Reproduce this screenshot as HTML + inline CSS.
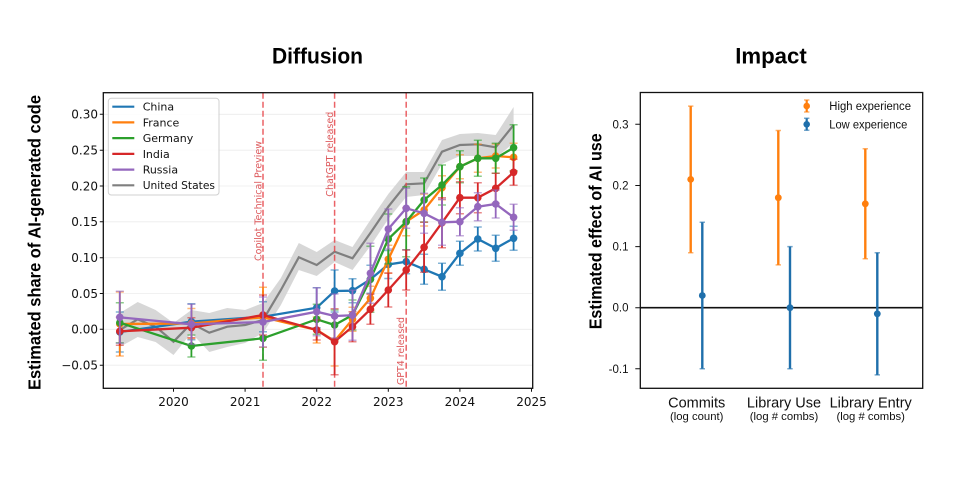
<!DOCTYPE html>
<html><head><meta charset="utf-8"><style>
html,body{margin:0;padding:0;background:#fff;}
svg{display:block;}
.tk{font-family:"DejaVu Sans","Liberation Sans",sans-serif;font-size:12px;fill:#111;}
.lg{font-family:"DejaVu Sans","Liberation Sans",sans-serif;font-size:11px;fill:#111;}
.rt{font-family:"Liberation Sans",sans-serif;font-size:11.5px;fill:#111;}
.ttl{font-family:"Liberation Sans",sans-serif;font-weight:bold;font-size:22px;fill:#000;}
.yl{font-family:"Liberation Sans",sans-serif;font-weight:bold;font-size:17.5px;fill:#000;}
.ev{font-family:"DejaVu Sans","Liberation Sans",sans-serif;font-size:9.5px;fill:#d9474a;fill-opacity:0.9;}
</style></head><body>
<svg width="960" height="493" viewBox="0 0 960 493" xmlns="http://www.w3.org/2000/svg">
<rect width="960" height="493" fill="#fff"/>
<!-- Titles -->
<text class="ttl" x="317.5" y="63.3" text-anchor="middle" textLength="91" lengthAdjust="spacingAndGlyphs">Diffusion</text>
<text class="ttl" x="771" y="63.3" text-anchor="middle" textLength="71.5" lengthAdjust="spacingAndGlyphs">Impact</text>

<!-- LEFT PANEL -->
<g stroke="#ececec" stroke-width="0.8">
<line x1="103.3" x2="532.7" y1="114.3" y2="114.3"/>
<line x1="103.3" x2="532.7" y1="150.2" y2="150.2"/>
<line x1="103.3" x2="532.7" y1="186" y2="186"/>
<line x1="103.3" x2="532.7" y1="221.8" y2="221.8"/>
<line x1="103.3" x2="532.7" y1="257.7" y2="257.7"/>
<line x1="103.3" x2="532.7" y1="293.5" y2="293.5"/>
<line x1="103.3" x2="532.7" y1="329.3" y2="329.3"/>
<line x1="103.3" x2="532.7" y1="365.2" y2="365.2"/>
</g>
<!-- US band -->
<polygon fill="#d3d3d3" fill-opacity="0.9" points="119.8,313 137.7,302 155.6,310 173.5,323 191.4,310 209.3,313 227.2,308 245.1,310 263,303 280.9,278 298.8,243 316.7,252 334.6,240 352.5,247 370.4,220 388.3,194 406.2,172 424.1,172 442,140 459.9,134 477.8,133 495.7,135 513.6,107 513.6,143 495.7,158 477.8,156 459.9,156 442,164 424.1,195 406.2,197 388.3,219 370.4,246 352.5,270 334.6,262 316.7,276 298.8,270 280.9,305 263,333 245.1,343 227.2,347 209.3,352 191.4,333 173.5,355 155.6,342 137.7,337 119.8,347"/>
<polyline fill="none" stroke="#7f7f7f" stroke-width="2.2" points="119.8,330 137.7,319.3 155.6,326.7 173.5,341.7 191.4,323.3 209.3,332.7 227.2,326.7 245.1,325 263,320 280.9,290 298.8,257.3 316.7,265 334.6,251.7 352.5,258.3 370.4,233 388.3,206.7 406.2,184.3 424.1,183.3 442,151.7 459.9,145 477.8,144.3 495.7,147.3 513.6,125"/>

<!-- event lines -->
<g stroke="#e8474b" stroke-opacity="0.85" stroke-width="1.5" stroke-dasharray="6,3">
<line x1="263" x2="263" y1="92.7" y2="388.3"/>
<line x1="334.6" x2="334.6" y1="92.7" y2="388.3"/>
<line x1="406.2" x2="406.2" y1="92.7" y2="388.3"/>
</g>
<text class="ev" transform="translate(261.3,261) rotate(-90)" textLength="120" lengthAdjust="spacingAndGlyphs">Copilot Technical Preview</text>
<text class="ev" transform="translate(333,196.7) rotate(-90)" textLength="85" lengthAdjust="spacingAndGlyphs">ChatGPT released</text>
<text class="ev" transform="translate(403.8,385) rotate(-90)" textLength="68" lengthAdjust="spacingAndGlyphs">GPT4 released</text>

<!-- China -->
<g stroke="#1f77b4" fill="none" stroke-width="1.8">
<path d="M119.8 312V352M191.4 303.7V339.7M263 301.7V331.7M316.7 287.7V327.7M334.6 270V312M352.5 278.7V302.7M370.4 265.3V293.3M388.3 250.5V278.5M406.2 249.7V273.7M424.1 254.3V284.3M442 263.2V290.2M459.9 241.3V265.3M477.8 227V251M495.7 235.3V261.3M513.6 226.3V250.3"/>
<path stroke-opacity="0.55" stroke-width="1.5" d="M115.8 312h8M115.8 352h8M187.4 303.7h8M187.4 339.7h8M259 301.7h8M259 331.7h8M312.7 287.7h8M312.7 327.7h8M330.6 270h8M330.6 312h8M348.5 278.7h8M348.5 302.7h8M366.4 265.3h8M366.4 293.3h8M384.3 250.5h8M384.3 278.5h8M402.2 249.7h8M402.2 273.7h8M420.1 254.3h8M420.1 284.3h8M438 263.2h8M438 290.2h8M455.9 241.3h8M455.9 265.3h8M473.8 227h8M473.8 251h8M491.7 235.3h8M491.7 261.3h8M509.6 226.3h8M509.6 250.3h8"/>
<polyline stroke-width="2.3" points="119.8,332 191.4,321.7 263,316.7 316.7,307.7 334.6,291 352.5,290.7 370.4,279.3 388.3,264.5 406.2,261.7 424.1,269.3 442,276.7 459.9,253.3 477.8,239 495.7,248.3 513.6,238.3"/>
</g>
<g fill="#1f77b4"><circle cx="119.8" cy="332" r="3.8"/><circle cx="191.4" cy="321.7" r="3.8"/><circle cx="263" cy="316.7" r="3.8"/><circle cx="316.7" cy="307.7" r="3.8"/><circle cx="334.6" cy="291" r="3.8"/><circle cx="352.5" cy="290.7" r="3.8"/><circle cx="370.4" cy="279.3" r="3.8"/><circle cx="388.3" cy="264.5" r="3.8"/><circle cx="406.2" cy="261.7" r="3.8"/><circle cx="424.1" cy="269.3" r="3.8"/><circle cx="442" cy="276.7" r="3.8"/><circle cx="459.9" cy="253.3" r="3.8"/><circle cx="477.8" cy="239" r="3.8"/><circle cx="495.7" cy="248.3" r="3.8"/><circle cx="513.6" cy="238.3" r="3.8"/></g>

<!-- France -->
<g stroke="#ff7f0e" fill="none" stroke-width="1.8">
<path d="M119.8 292V356M191.4 308.5V338.5M263 287.3V347.3M316.7 317V343M334.6 316V366M352.5 307.3V331.3M370.4 286.3V310.3M388.3 245.3V273.3M406.2 207.7V235.7M424.1 194V226M442 175.7V199.7M459.9 154.7V178.7M477.8 144.3V172.3M495.7 144V168M513.6 143.3V171.3"/>
<path stroke-opacity="0.55" stroke-width="1.5" d="M115.8 292h8M115.8 356h8M187.4 308.5h8M187.4 338.5h8M259 287.3h8M259 347.3h8M312.7 317h8M312.7 343h8M330.6 316h8M330.6 366h8M348.5 307.3h8M348.5 331.3h8M366.4 286.3h8M366.4 310.3h8M384.3 245.3h8M384.3 273.3h8M402.2 207.7h8M402.2 235.7h8M420.1 194h8M420.1 226h8M438 175.7h8M438 199.7h8M455.9 154.7h8M455.9 178.7h8M473.8 144.3h8M473.8 172.3h8M491.7 144h8M491.7 168h8M509.6 143.3h8M509.6 171.3h8"/>
<polyline stroke-width="2.3" points="119.8,324 191.4,323.5 263,317.3 316.7,330 334.6,341 352.5,319.3 370.4,298.3 388.3,259.3 406.2,221.7 424.1,210 442,187.7 459.9,166.7 477.8,158.3 495.7,156 513.6,157.3"/>
</g>
<g fill="#ff7f0e"><circle cx="119.8" cy="324" r="3.8"/><circle cx="191.4" cy="323.5" r="3.8"/><circle cx="263" cy="317.3" r="3.8"/><circle cx="316.7" cy="330" r="3.8"/><circle cx="334.6" cy="341" r="3.8"/><circle cx="352.5" cy="319.3" r="3.8"/><circle cx="370.4" cy="298.3" r="3.8"/><circle cx="388.3" cy="259.3" r="3.8"/><circle cx="406.2" cy="221.7" r="3.8"/><circle cx="424.1" cy="210" r="3.8"/><circle cx="442" cy="187.7" r="3.8"/><circle cx="459.9" cy="166.7" r="3.8"/><circle cx="477.8" cy="158.3" r="3.8"/><circle cx="495.7" cy="156" r="3.8"/><circle cx="513.6" cy="157.3" r="3.8"/></g>

<!-- Germany -->
<g stroke="#2ca02c" fill="none" stroke-width="1.8">
<path d="M119.8 302.7V342.7M191.4 335V357M263 316.3V360.3M316.7 304.3V334.3M334.6 310V340M352.5 300V330M370.4 246.3V312.3M388.3 214V264M406.2 186.7V256.7M424.1 178V222M442 165V205M459.9 150.7V182.7M477.8 140.3V176.3M495.7 143.3V173.3M513.6 124.7V170.7"/>
<path stroke-opacity="0.55" stroke-width="1.5" d="M115.8 302.7h8M115.8 342.7h8M187.4 335h8M187.4 357h8M259 316.3h8M259 360.3h8M312.7 304.3h8M312.7 334.3h8M330.6 310h8M330.6 340h8M348.5 300h8M348.5 330h8M366.4 246.3h8M366.4 312.3h8M384.3 214h8M384.3 264h8M402.2 186.7h8M402.2 256.7h8M420.1 178h8M420.1 222h8M438 165h8M438 205h8M455.9 150.7h8M455.9 182.7h8M473.8 140.3h8M473.8 176.3h8M491.7 143.3h8M491.7 173.3h8M509.6 124.7h8M509.6 170.7h8"/>
<polyline stroke-width="2.3" points="119.8,322.7 191.4,346 263,338.3 316.7,319.3 334.6,325 352.5,315 370.4,279.3 388.3,239 406.2,221.7 424.1,200 442,185 459.9,166.7 477.8,158.3 495.7,158.3 513.6,147.7"/>
</g>
<g fill="#2ca02c"><circle cx="119.8" cy="322.7" r="3.8"/><circle cx="191.4" cy="346" r="3.8"/><circle cx="263" cy="338.3" r="3.8"/><circle cx="316.7" cy="319.3" r="3.8"/><circle cx="334.6" cy="325" r="3.8"/><circle cx="352.5" cy="315" r="3.8"/><circle cx="370.4" cy="279.3" r="3.8"/><circle cx="388.3" cy="239" r="3.8"/><circle cx="406.2" cy="221.7" r="3.8"/><circle cx="424.1" cy="200" r="3.8"/><circle cx="442" cy="185" r="3.8"/><circle cx="459.9" cy="166.7" r="3.8"/><circle cx="477.8" cy="158.3" r="3.8"/><circle cx="495.7" cy="158.3" r="3.8"/><circle cx="513.6" cy="147.7" r="3.8"/></g>

<!-- India -->
<g stroke="#d62728" fill="none" stroke-width="1.8">
<path d="M119.8 317.3V345.3M191.4 317.7V337.7M263 295V335M316.7 320V340M334.6 308.7V374.7M352.5 311.7V341.7M370.4 294.3V324.3M388.3 273V307M406.2 250V290M424.1 222.3V272.3M442 197.7V247.7M459.9 181.7V213.7M477.8 182.7V212.7M495.7 173.3V203.3M513.6 159.3V185.3"/>
<path stroke-opacity="0.55" stroke-width="1.5" d="M115.8 317.3h8M115.8 345.3h8M187.4 317.7h8M187.4 337.7h8M259 295h8M259 335h8M312.7 320h8M312.7 340h8M330.6 308.7h8M330.6 374.7h8M348.5 311.7h8M348.5 341.7h8M366.4 294.3h8M366.4 324.3h8M384.3 273h8M384.3 307h8M402.2 250h8M402.2 290h8M420.1 222.3h8M420.1 272.3h8M438 197.7h8M438 247.7h8M455.9 181.7h8M455.9 213.7h8M473.8 182.7h8M473.8 212.7h8M491.7 173.3h8M491.7 203.3h8M509.6 159.3h8M509.6 185.3h8"/>
<polyline stroke-width="2.3" points="119.8,331.3 191.4,327.7 263,315 316.7,330 334.6,341.7 352.5,326.7 370.4,309.3 388.3,290 406.2,270 424.1,247.3 442,222.7 459.9,197.7 477.8,197.7 495.7,188.3 513.6,172.3"/>
</g>
<g fill="#d62728"><circle cx="119.8" cy="331.3" r="3.8"/><circle cx="191.4" cy="327.7" r="3.8"/><circle cx="263" cy="315" r="3.8"/><circle cx="316.7" cy="330" r="3.8"/><circle cx="334.6" cy="341.7" r="3.8"/><circle cx="352.5" cy="326.7" r="3.8"/><circle cx="370.4" cy="309.3" r="3.8"/><circle cx="388.3" cy="290" r="3.8"/><circle cx="406.2" cy="270" r="3.8"/><circle cx="424.1" cy="247.3" r="3.8"/><circle cx="442" cy="222.7" r="3.8"/><circle cx="459.9" cy="197.7" r="3.8"/><circle cx="477.8" cy="197.7" r="3.8"/><circle cx="495.7" cy="188.3" r="3.8"/><circle cx="513.6" cy="172.3" r="3.8"/></g>

<!-- Russia -->
<g stroke="#9467bd" fill="none" stroke-width="1.8">
<path d="M119.8 291.3V343.3M191.4 304.3V344.3M263 297V347M316.7 287.7V335.7M334.6 294V338M352.5 290.3V340.3M370.4 243.3V303.3M388.3 209V249M406.2 188.3V228.3M424.1 193.3V233.3M442 199.3V245.3M459.9 207.7V235.7M477.8 192.7V220.7M495.7 190V218M513.6 204.3V230.3"/>
<path stroke-opacity="0.55" stroke-width="1.5" d="M115.8 291.3h8M115.8 343.3h8M187.4 304.3h8M187.4 344.3h8M259 297h8M259 347h8M312.7 287.7h8M312.7 335.7h8M330.6 294h8M330.6 338h8M348.5 290.3h8M348.5 340.3h8M366.4 243.3h8M366.4 303.3h8M384.3 209h8M384.3 249h8M402.2 188.3h8M402.2 228.3h8M420.1 193.3h8M420.1 233.3h8M438 199.3h8M438 245.3h8M455.9 207.7h8M455.9 235.7h8M473.8 192.7h8M473.8 220.7h8M491.7 190h8M491.7 218h8M509.6 204.3h8M509.6 230.3h8"/>
<polyline stroke-width="2.3" points="119.8,317.3 191.4,324.3 263,322 316.7,311.7 334.6,316 352.5,315.3 370.4,273.3 388.3,229 406.2,208.3 424.1,213.3 442,222.3 459.9,221.7 477.8,206.7 495.7,204 513.6,217.3"/>
</g>
<g fill="#9467bd"><circle cx="119.8" cy="317.3" r="3.8"/><circle cx="191.4" cy="324.3" r="3.8"/><circle cx="263" cy="322" r="3.8"/><circle cx="316.7" cy="311.7" r="3.8"/><circle cx="334.6" cy="316" r="3.8"/><circle cx="352.5" cy="315.3" r="3.8"/><circle cx="370.4" cy="273.3" r="3.8"/><circle cx="388.3" cy="229" r="3.8"/><circle cx="406.2" cy="208.3" r="3.8"/><circle cx="424.1" cy="213.3" r="3.8"/><circle cx="442" cy="222.3" r="3.8"/><circle cx="459.9" cy="221.7" r="3.8"/><circle cx="477.8" cy="206.7" r="3.8"/><circle cx="495.7" cy="204" r="3.8"/><circle cx="513.6" cy="217.3" r="3.8"/></g>

<!-- legend -->
<rect x="108.3" y="98.3" width="110.7" height="96.7" rx="3" fill="#fff" fill-opacity="0.85" stroke="#d0d0d0" stroke-width="1"/>
<g stroke-width="2.2">
<line x1="112.3" x2="134.3" y1="106.7" y2="106.7" stroke="#1f77b4"/>
<line x1="112.3" x2="134.3" y1="122.4" y2="122.4" stroke="#ff7f0e"/>
<line x1="112.3" x2="134.3" y1="138.1" y2="138.1" stroke="#2ca02c"/>
<line x1="112.3" x2="134.3" y1="153.9" y2="153.9" stroke="#d62728"/>
<line x1="112.3" x2="134.3" y1="169.6" y2="169.6" stroke="#9467bd"/>
<line x1="112.3" x2="134.3" y1="185.3" y2="185.3" stroke="#7f7f7f"/>
</g>
<text class="lg" x="142.7" y="110.6">China</text>
<text class="lg" x="142.7" y="126.3">France</text>
<text class="lg" x="142.7" y="142">Germany</text>
<text class="lg" x="142.7" y="157.8">India</text>
<text class="lg" x="142.7" y="173.5">Russia</text>
<text class="lg" x="142.7" y="189.2" textLength="72.3" lengthAdjust="spacingAndGlyphs">United States</text>

<!-- left axes frame -->
<rect x="103.3" y="92.7" width="429.4" height="295.6" fill="none" stroke="#111" stroke-width="1.3"/>
<g stroke="#111" stroke-width="1">
<path d="M99.8 114.3h3.5M99.8 150.2h3.5M99.8 186h3.5M99.8 221.8h3.5M99.8 257.7h3.5M99.8 293.5h3.5M99.8 329.3h3.5M99.8 365.2h3.5"/>
<path d="M173.5 388.3v3.5M245.1 388.3v3.5M316.7 388.3v3.5M388.3 388.3v3.5M459.9 388.3v3.5M531.5 388.3v3.5"/>
</g>
<g class="tk" text-anchor="end">
<text x="98" y="118.6">0.30</text>
<text x="98" y="154.5">0.25</text>
<text x="98" y="190.3">0.20</text>
<text x="98" y="226.1">0.15</text>
<text x="98" y="262">0.10</text>
<text x="98" y="297.8">0.05</text>
<text x="98" y="333.6">0.00</text>
<text x="98" y="369.5">−0.05</text>
</g>
<g class="tk" text-anchor="middle">
<text x="173.5" y="406">2020</text>
<text x="245.1" y="406">2021</text>
<text x="316.7" y="406">2022</text>
<text x="388.3" y="406">2023</text>
<text x="459.9" y="406">2024</text>
<text x="531.5" y="406">2025</text>
</g>
<text class="yl" transform="translate(40.5,242.5) rotate(-90)" text-anchor="middle" textLength="295" lengthAdjust="spacingAndGlyphs">Estimated share of AI-generated code</text>

<!-- RIGHT PANEL -->
<line x1="640.3" x2="922.7" y1="307.7" y2="307.7" stroke="#111" stroke-width="1.6"/>
<!-- orange -->
<g stroke="#ff7f0e" stroke-width="2.4" fill="none">
<path d="M690.7 106.1V252.7M778.3 130.5V264.9M865.3 148.8V258.8"/>
<path stroke-opacity="0.6" stroke-width="1.5" d="M688 106.1h5.4M688 252.7h5.4M775.6 130.5h5.4M775.6 264.9h5.4M862.6 148.8h5.4M862.6 258.8h5.4"/>
</g>
<g fill="#ff7f0e"><circle cx="690.7" cy="179.4" r="3.4"/><circle cx="778.3" cy="197.7" r="3.4"/><circle cx="865.3" cy="203.8" r="3.4"/></g>
<!-- blue -->
<g stroke="#1f6fab" stroke-width="2.4" fill="none">
<path d="M702.3 222.2V368.8M790 246.6V368.8M877.3 252.7V374.9"/>
<path stroke-opacity="0.6" stroke-width="1.5" d="M699.6 222.2h5.4M699.6 368.8h5.4M787.3 246.6h5.4M787.3 368.8h5.4M874.6 252.7h5.4M874.6 374.9h5.4"/>
</g>
<g fill="#1f6fab"><circle cx="702.3" cy="295.5" r="3.4"/><circle cx="790" cy="307.7" r="3.4"/><circle cx="877.3" cy="313.8" r="3.4"/></g>
<!-- legend right -->
<g stroke-width="2.2" fill="none">
<path stroke="#ff7f0e" d="M806.7 100V112"/>
<path stroke="#ff7f0e" stroke-opacity="0.6" stroke-width="1.5" d="M804 100h5.4M804 112h5.4"/>
<path stroke="#1f6fab" d="M806.7 118.3V130.3"/>
<path stroke="#1f6fab" stroke-opacity="0.6" stroke-width="1.5" d="M804 118.3h5.4M804 130.3h5.4"/>
</g>
<circle cx="806.7" cy="106" r="3.3" fill="#ff7f0e"/>
<circle cx="806.7" cy="124.3" r="3.3" fill="#1f6fab"/>
<text class="rt" x="829.3" y="110" textLength="81.7" lengthAdjust="spacingAndGlyphs">High experience</text>
<text class="rt" x="829.3" y="128.5" textLength="78" lengthAdjust="spacingAndGlyphs">Low experience</text>
<!-- right frame -->
<rect x="640.3" y="92.5" width="282.4" height="295.8" fill="none" stroke="#111" stroke-width="1.3"/>
<g stroke="#111" stroke-width="1">
<path d="M635.3 124.3h5M635.3 185.5h5M635.3 246.6h5M635.3 307.7h5M635.3 368.8h5"/>
</g>
<g class="rt" text-anchor="end">
<text x="628.5" y="128.3">0.3</text>
<text x="628.5" y="189.5">0.2</text>
<text x="628.5" y="250.6">0.1</text>
<text x="628.5" y="311.7">0.0</text>
<text x="628.5" y="372.8">-0.1</text>
</g>
<g font-family="Liberation Sans, sans-serif" fill="#111" text-anchor="middle">
<text x="696.7" y="407.5" font-size="14.5">Commits</text>
<text x="696.7" y="420" font-size="11.3">(log count)</text>
<text x="784" y="407.5" font-size="14.5">Library Use</text>
<text x="784" y="420" font-size="11.3">(log # combs)</text>
<text x="870.7" y="407.5" font-size="14.5">Library Entry</text>
<text x="870.7" y="420" font-size="11.3">(log # combs)</text>
</g>
<text class="yl" transform="translate(601.5,231.3) rotate(-90)" text-anchor="middle" textLength="196" lengthAdjust="spacingAndGlyphs">Estimated effect of AI use</text>
</svg>
</body></html>
